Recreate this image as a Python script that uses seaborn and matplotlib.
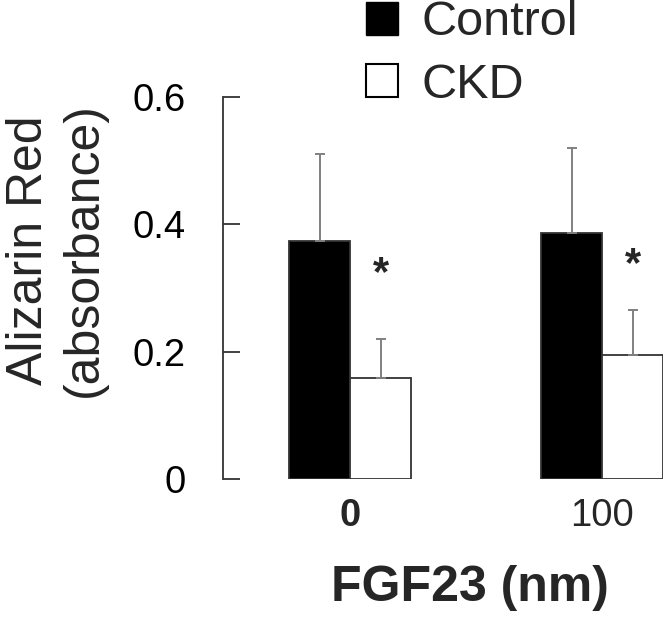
import matplotlib
matplotlib.use("Agg")
import matplotlib.pyplot as plt
import seaborn as sns
import pandas as pd
import numpy as np
from matplotlib.patches import Patch

# Dados
doses = ["0", "100"]
grupos = ["Control", "CKD"]
media_control = [0.374, 0.387]
media_ckd = [0.158, 0.194]
erro_control = [0.136, 0.133]
erro_ckd = [0.062, 0.072]
signif_y = [0.322, 0.336]  # posição dos asteriscos

df = pd.DataFrame({
    "dose": doses * 2,
    "grupo": ["Control"] * 2 + ["CKD"] * 2,
    "valor": media_control + media_ckd,
    "erro": erro_control + erro_ckd,
})

sns.set_theme(style="white")
plt.rcParams["font.family"] = ["Liberation Sans", "DejaVu Sans"]

fig = plt.figure(figsize=(6.63, 6.17), dpi=100)
ax = fig.add_axes([223 / 663, 138 / 617, 440 / 663, 382 / 617])

sns.barplot(data=df, x="dose", y="valor", hue="grupo", hue_order=grupos,
            palette={"Control": "black", "CKD": "white"}, width=0.484,
            errorbar=None, edgecolor="#333333", linewidth=1.3, legend=False, ax=ax)

# barras de erro só para cima
for i, patch in enumerate(ax.patches[:4]):
    cx = patch.get_x() + patch.get_width() / 2
    h = patch.get_height()
    e = df["erro"].iloc[i]
    ax.errorbar(cx, h, yerr=[[0], [e]], color="#808080", lw=1.4,
                capsize=3.8, capthick=1.4, clip_on=False)

# asteriscos sobre as barras CKD
for j, patch in enumerate(ax.patches[2:4]):
    cx = patch.get_x() + patch.get_width() / 2
    ax.text(cx, signif_y[j], "*", ha="center", va="center", fontsize=30,
            fontweight="bold")

ax.set_xlim(-0.504, 1.242)
ax.set_ylim(0, 0.6)
ax.set_yticks([0, 0.2, 0.4, 0.6])
ax.set_yticklabels(["0", "0.2", "0.4", "0.6"], fontsize=27.5)
ax.tick_params(axis="y", left=True, direction="in", length=12, width=1.3,
               pad=27, color="#333333", labelcolor="black")
ax.tick_params(axis="x", length=0, pad=14)
ax.set_xticklabels(doses, fontsize=27.5)
ax.get_xticklabels()[0].set_fontweight("bold")

for s in ["top", "right", "bottom"]:
    ax.spines[s].set_visible(False)
ax.spines["left"].set_color("#333333")
ax.spines["left"].set_linewidth(1.3)

ax.set_xlabel("FGF23 (nm)", fontsize=36, fontweight="bold")
ax.xaxis.set_label_coords(0.561, -0.225)
ax.set_ylabel("Alizarin Red\n(absorbance)", fontsize=36, linespacing=1.25)
ax.yaxis.set_label_coords(-0.264, 0.6)

handles = [Patch(facecolor="black", edgecolor="black"),
           Patch(facecolor="white", edgecolor="black", linewidth=1.5)]
ax.legend(handles, grupos, fontsize=35, frameon=False, handlelength=0.66,
          handleheight=0.66, handletextpad=0.48, labelspacing=0.36,
          loc="upper left", bbox_to_anchor=(342 / 663, 1.039),
          bbox_transform=fig.transFigure, borderpad=0)

fig.savefig("out.png", dpi=100)
